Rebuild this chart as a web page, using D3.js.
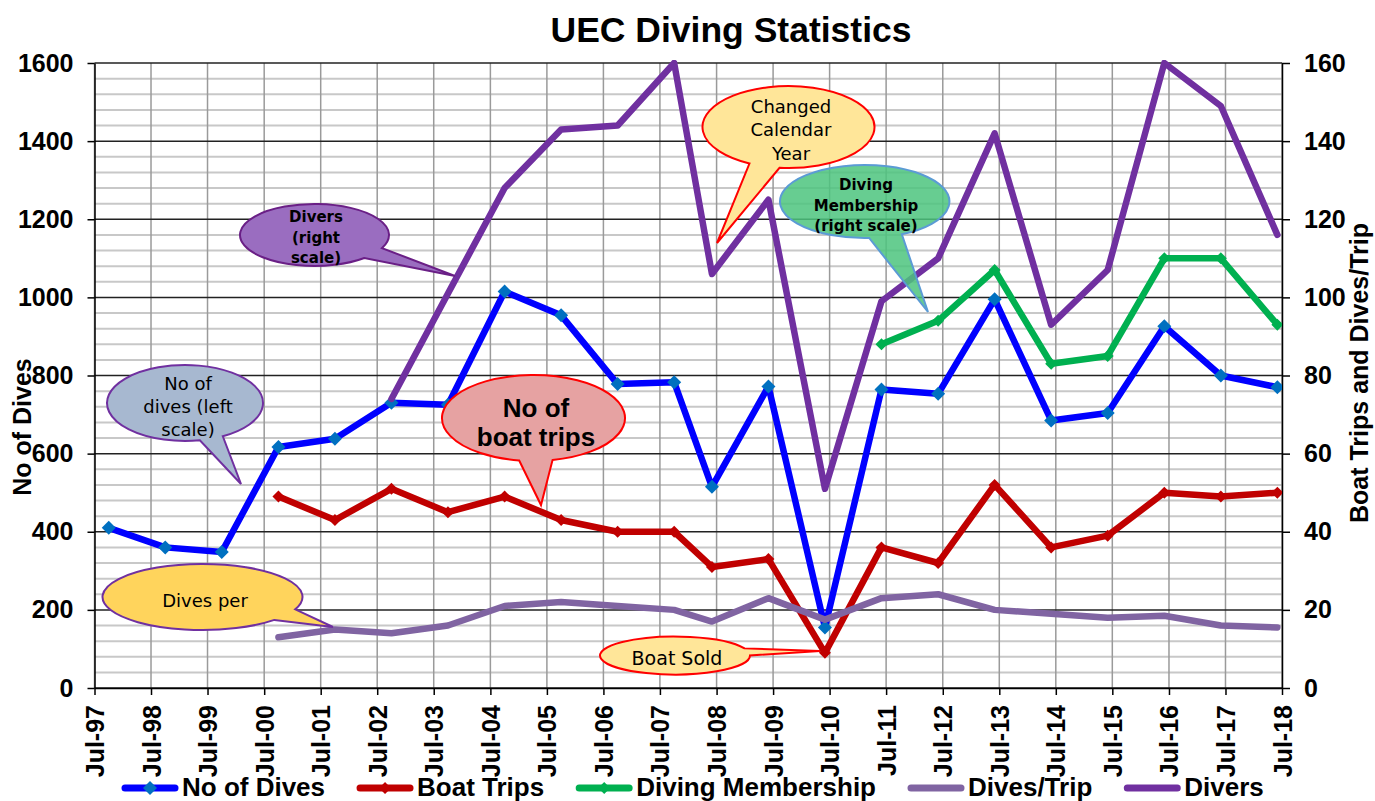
<!DOCTYPE html>
<html>
<head>
<meta charset="utf-8">
<script src="https://cdnjs.cloudflare.com/ajax/libs/d3/7.8.5/d3.min.js"></script>
<style>
body { margin: 0; background: #fff; }
svg { display: block; }
.axis text { font-family: "Liberation Sans", Arial, sans-serif; font-weight: bold; font-size: 25px; fill: #000; }
.axis .domain, .axis .tick line { stroke: #000; stroke-width: 1.5; }
</style>
</head>
<body>
<div id="chart"></div>
<script>
// x axis ticks and data periods
const tickLabels = ["Jul-97","Jul-98","Jul-99","Jul-00","Jul-01","Jul-02","Jul-03","Jul-04","Jul-05","Jul-06","Jul-07",
  "Jul-08","Jul-09","Jul-10","Jul-11","Jul-12","Jul-13","Jul-14","Jul-15","Jul-16","Jul-17","Jul-18"];
const periods = ["Oct-97","Oct-98","Oct-99","Oct-00","Oct-01","Oct-02","Oct-03","Oct-04","Oct-05","Oct-06","Oct-07",
  "Jun-08","Jun-09","Jun-10","Jun-11","Jun-12","Jun-13","Jun-14","Jun-15","Jun-16","Jun-17","Jun-18"];

// series (left axis: dives, right axis: the rest)
const dives = [410,360,348,617,638,730,725,1015,954,778,783,515,772,155,764,753,995,685,704,926,800,770];
const boatTrips = [null,null,null,49,43,51,45,49,43,40,40,31,33,9,36,32,52,36,39,50,49,50];
const membership = [null,null,null,null,null,null,null,null,null,null,null,null,null,null,88,94,107,83,85,110,110,93];
const divesPerTrip = [null,null,null,13,15,14,16,21,22,21,20,17,23,17.5,23,24,20,19,18,18.5,16,15.5];
const divers = [null,null,null,null,null,74,101,128,143,144,160,106,125,51,99,110,142,93,107,160,149,116];

const leftTicks = [0,200,400,600,800,1000,1200,1400,1600];
const rightTicks = [0,20,40,60,80,100,120,140,160];

const W = 1375, H = 801;
const x0 = 94.5, x1 = 1282, yTop = 63, yBot = 688;
const parse = d3.timeParse("%b-%y");
const tickDates = tickLabels.map(parse);
const dates = periods.map(parse);

const x = d3.scaleTime().domain([tickDates[0], tickDates[tickDates.length - 1]]).range([x0, x1]);
const yL = d3.scaleLinear().domain([0, 1600]).range([yBot, yTop]);
const yR = d3.scaleLinear().domain([0, 160]).range([yBot, yTop]);

const svg = d3.select("#chart").append("svg").attr("width", W).attr("height", H);

// grid
const grid = svg.append("g");
grid.selectAll(".minor").data(d3.range(0, 1601, 40).filter(v => v % 200 !== 0)).join("line")
  .attr("x1", x0).attr("x2", x1).attr("y1", d => yL(d)).attr("y2", d => yL(d))
  .attr("stroke", "#c8c8c8").attr("stroke-width", 2);
grid.selectAll(".vert").data(tickDates).join("line")
  .attr("x1", d => x(d)).attr("x2", d => x(d)).attr("y1", yTop).attr("y2", yBot)
  .attr("stroke", "#9a9a9a").attr("stroke-width", 1.5);
grid.selectAll(".major").data(leftTicks).join("line")
  .attr("x1", x0).attr("x2", x1).attr("y1", d => yL(d)).attr("y2", d => yL(d))
  .attr("stroke", "#222").attr("stroke-width", 1.5);

// axes
svg.append("g").attr("class", "axis").attr("transform", `translate(${x0},0)`)
  .call(d3.axisLeft(yL).tickValues(leftTicks).tickSize(7).tickSizeOuter(0).tickPadding(14).tickFormat(d3.format("d")));
svg.append("g").attr("class", "axis").attr("transform", `translate(${x1},0)`)
  .call(d3.axisRight(yR).tickValues(rightTicks).tickSize(8).tickSizeOuter(0).tickPadding(14).tickFormat(d3.format("d")));
const xAxis = svg.append("g").attr("class", "axis").attr("transform", `translate(0,${yBot})`)
  .call(d3.axisBottom(x).tickValues(tickDates).tickSize(7).tickSizeOuter(0).tickFormat((d, i) => tickLabels[i]));
xAxis.selectAll("text")
  .attr("transform", "rotate(-90)")
  .attr("text-anchor", "end")
  .attr("x", -17).attr("y", 0).attr("dy", "0.36em");

// series
const series = [
  {name: "No of Dives", values: dives, scale: yL, color: "#0000FF", marker: "#0070C0", r: 7},
  {name: "Boat Trips", values: boatTrips, scale: yR, color: "#C00000", marker: "#C00000", r: 6},
  {name: "Diving Membership", values: membership, scale: yR, color: "#00B050", marker: "#00B050", r: 6},
  {name: "Dives/Trip", values: divesPerTrip, scale: yR, color: "#8064A2", marker: null},
  {name: "Divers", values: divers, scale: yR, color: "#7030A0", marker: null}
];

svg.append("clipPath").attr("id", "plot").append("rect")
  .attr("x", x0).attr("y", yTop - 3).attr("width", x1 - x0).attr("height", yBot - yTop + 3);

const diamond = r => `M0,${-r}L${r},0L0,${r}L${-r},0Z`;
const plot = svg.append("g").attr("clip-path", "url(#plot)");

series.forEach(s => {
  const pts = dates.map((d, i) => ({d, v: s.values[i]}));
  const line = d3.line().defined(p => p.v != null).x(p => x(p.d)).y(p => s.scale(p.v));
  plot.append("path").datum(pts).attr("d", line)
    .attr("fill", "none").attr("stroke", s.color).attr("stroke-width", 6.5)
    .attr("stroke-linejoin", "round").attr("stroke-linecap", "round");
  if (s.marker) {
    plot.selectAll(null).data(pts.filter(p => p.v != null)).join("path")
      .attr("d", diamond(s.r))
      .attr("transform", p => `translate(${x(p.d)},${s.scale(p.v)})`)
      .attr("fill", s.marker);
  }
});

// callouts
const callouts = [
  {cx: 314.5, cy: 235, rx: 74.5, ry: 31, a1: 25, a2: 48, tip: [455, 276], fill: "#9A6DC0", stroke: "#6A1F86",
   lines: ["Divers", "(right", "scale)"], tx: 316, ty: 222, lh: 20.5, size: 15, weight: "bold", font: "DejaVu Sans"},
  {cx: 185, cy: 403, rx: 78, ry: 38, a1: 61, a2: 79, tip: [241, 484], fill: "#A7B8D0", stroke: "#7030A0",
   lines: ["No of", "dives (left", "scale)"], tx: 188, ty: 389.5, lh: 23, size: 18, weight: "normal", font: "DejaVu Sans"},
  {cx: 202.5, cy: 597, rx: 100, ry: 33, a1: 22, a2: 44, tip: [333, 627], fill: "#FFD45C", stroke: "#7030A0",
   lines: ["Dives per"], tx: 205, ty: 607, lh: 22, size: 18, weight: "normal", font: "DejaVu Sans"},
  {cx: 533.5, cy: 418, rx: 91.5, ry: 43, a1: 78, a2: 99, tip: [541, 505], fill: "#E6A2A2", stroke: "#FF0000",
   lines: ["No of", "boat trips"], tx: 536, ty: 417, lh: 29, size: 26, weight: "bold", font: "Liberation Sans"},
  {cx: 788.5, cy: 127, rx: 86, ry: 41, a1: 96, a2: 117, tip: [717, 243], fill: "#FFE699", stroke: "#FF0000",
   lines: ["Changed", "Calendar", "Year"], tx: 791, ty: 113, lh: 23.3, size: 18, weight: "normal", font: "DejaVu Sans"},
  {cx: 864.7, cy: 201.5, rx: 84.7, ry: 36.5, a1: 64, a2: 87, tip: [928, 312], fill: "#4CC47E", stroke: "#5B9BD5", opacity: 0.85,
   lines: ["Diving", "Membership", "(right scale)"], tx: 866, ty: 190, lh: 20.7, size: 15, weight: "bold", font: "DejaVu Sans"},
  {cx: 675, cy: 655.5, rx: 75, ry: 19, a1: -22, a2: 0, tip: [820, 651], fill: "#FFE699", stroke: "#FF0000",
   lines: ["Boat Sold"], tx: 677, ty: 664.5, lh: 20, size: 19, weight: "normal", font: "DejaVu Sans"}
];

function calloutPath(c) {
  const p = a => [c.cx + c.rx * Math.cos(a * Math.PI / 180), c.cy + c.ry * Math.sin(a * Math.PI / 180)];
  const [ax, ay] = p(c.a1), [bx, by] = p(c.a2);
  return `M${bx},${by}A${c.rx},${c.ry} 0 1 1 ${ax},${ay}L${c.tip[0]},${c.tip[1]}Z`;
}

callouts.forEach(c => {
  const g = svg.append("g");
  g.append("path").attr("d", calloutPath(c))
    .attr("fill", c.fill).attr("fill-opacity", c.opacity || 1)
    .attr("stroke", c.stroke).attr("stroke-width", 2);
  g.selectAll("text").data(c.lines).join("text")
    .attr("x", c.tx).attr("y", (d, i) => c.ty + i * c.lh)
    .attr("text-anchor", "middle")
    .style("font-family", c.font).style("font-size", c.size + "px").style("font-weight", c.weight)
    .text(d => d);
});

// titles
svg.append("text").attr("x", 731).attr("y", 42).attr("text-anchor", "middle")
  .style("font-family", "Liberation Sans, Arial, sans-serif").style("font-weight", "bold").style("font-size", "35.5px")
  .text("UEC Diving Statistics");
svg.append("text").attr("transform", "translate(31,427) rotate(-90)").attr("text-anchor", "middle")
  .style("font-family", "Liberation Sans, Arial, sans-serif").style("font-weight", "bold").style("font-size", "25px")
  .text("No of Dives");
svg.append("text").attr("transform", "translate(1368,373) rotate(-90)").attr("text-anchor", "middle")
  .style("font-family", "Liberation Sans, Arial, sans-serif").style("font-weight", "bold").style("font-size", "25px")
  .text("Boat Trips and Dives/Trip");

// legend
const legend = svg.append("g").attr("transform", "translate(122,788)");
let lx = 0;
series.forEach(s => {
  const item = legend.append("g").attr("transform", `translate(${lx},0)`);
  item.append("line").attr("x1", 3).attr("x2", 53).attr("y1", 0).attr("y2", 0)
    .attr("stroke", s.color).attr("stroke-width", 7).attr("stroke-linecap", "round");
  if (s.marker) item.append("path").attr("d", diamond(s.r)).attr("transform", "translate(28,0)").attr("fill", s.marker);
  const t = item.append("text").attr("x", 60).attr("y", 8)
    .style("font-family", "Liberation Sans, Arial, sans-serif").style("font-weight", "bold").style("font-size", "26px")
    .text(s.name);
  lx += 60 + t.node().getComputedTextLength() + 32;
});
</script>
</body>
</html>
